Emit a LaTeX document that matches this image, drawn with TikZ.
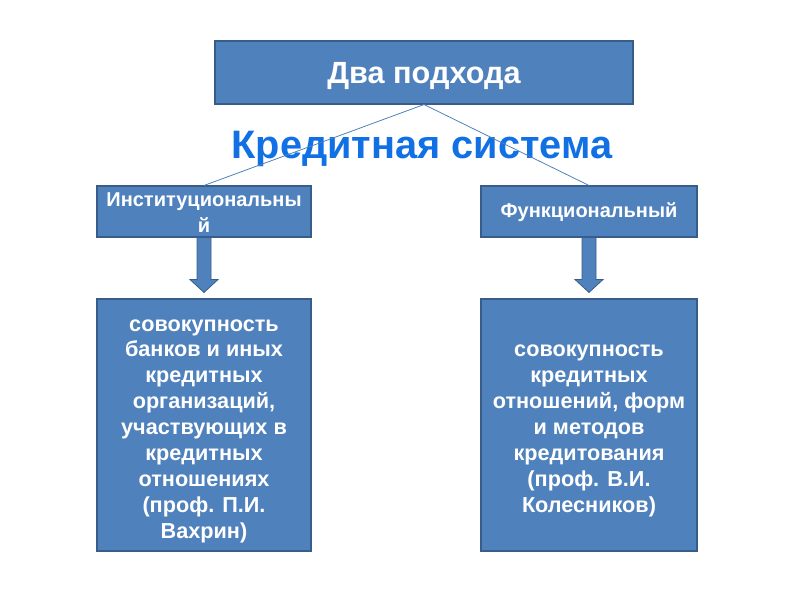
\documentclass[tikz,border=0pt]{standalone}
\usepackage{fontspec}
\setmainfont{Liberation Sans}
\usetikzlibrary{calc}
\definecolor{boxfill}{RGB}{79,129,189}
\definecolor{boxline}{RGB}{56,93,138}
\definecolor{titleblue}{RGB}{16,112,228}
\tikzset{
  box/.style={draw=boxline, line width=0.8pt, fill=boxfill, inner sep=0pt},
  boxtext/.style={text=white, align=center, inner sep=0pt},
  link/.style={draw=boxfill, line width=0.6pt},
  blockarrow/.style={fill=boxfill, draw=boxline, line width=0.6pt}
}
\begin{document}
\begin{tikzpicture}[x=0.75pt,y=-0.75pt]
\useasboundingbox (0,0) rectangle (800,600);
\node[box, minimum width=418*0.75pt, minimum height=63*0.75pt] (top) at (424,72.5) {};
\node[boxtext, font=\bfseries\fontsize{23}{27}\selectfont] (toptext) at ($(top.center)+(0,4)$) {Два подхода};
\node[text=titleblue, font=\bfseries\fontsize{29.8}{34}\selectfont, inner sep=0pt] (title) at (422,149) {Кредитная система};
\node[box, minimum width=214*0.75pt, minimum height=51*0.75pt] (inst) at (204,211.5) {};
\node[boxtext, font=\bfseries\fontsize{15}{19.5}\selectfont] (insttext) at ($(inst.center)+(0,1)$) {Институциональны\\й};
\node[box, minimum width=216*0.75pt, minimum height=51*0.75pt] (func) at (589,211.5) {};
\node[boxtext, font=\bfseries\fontsize{15}{19.5}\selectfont] (functext) at ($(func.center)+(0,1)$) {Функциональный};
\node[box, minimum width=214*0.75pt, minimum height=252*0.75pt] (instd) at (204,425) {};
\node[boxtext, font=\bfseries\fontsize{16.25}{19.4}\selectfont] (instdtext) at ($(instd.center)+(0,6)$) {совокупность\\банков и иных\\кредитных\\организаций,\\участвующих в\\кредитных\\отношениях\\(проф. П.И.\\Вахрин)};
\node[box, minimum width=216*0.75pt, minimum height=252*0.75pt] (funcd) at (589,425) {};
\node[boxtext, font=\bfseries\fontsize{16.25}{19.4}\selectfont] (funcdtext) at ($(funcd.center)+(0,6)$) {совокупность\\кредитных\\отношений, форм\\и методов\\кредитования\\(проф. В.И.\\Колесников)};
\draw[link] (top.south) -- (inst.north);
\draw[link] (top.south) -- (func.north);
\foreach \a/\b in {inst/instd, func/funcd}{
  \path[blockarrow] ($(\a.south)+(-7,0)$) -- ++(14,0) -- ++(0,42) -- ++(7,0) -- ($(\b.north)+(0,-6)$) -- ($(\a.south)+(-14,42)$) -- ++(7,0) -- cycle;
}
\end{tikzpicture}
\end{document}
